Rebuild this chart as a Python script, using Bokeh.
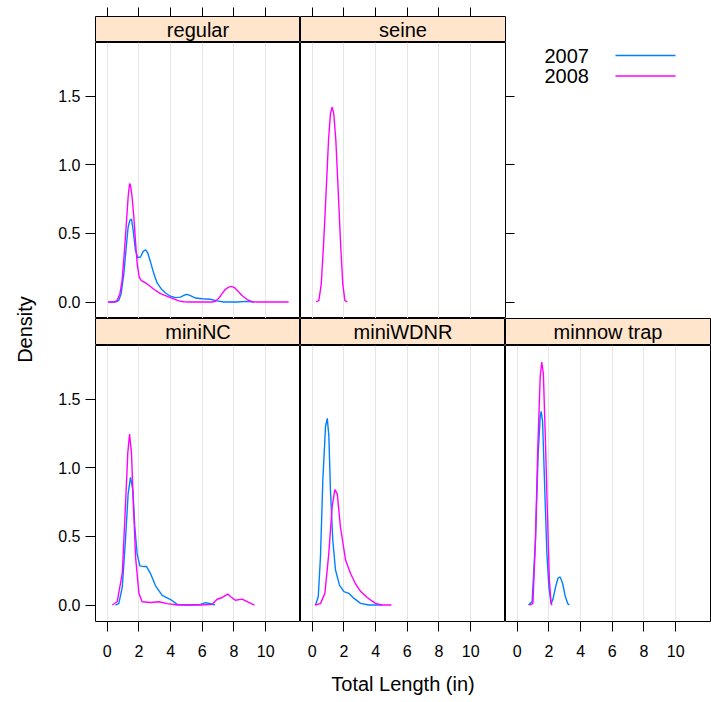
from bokeh.plotting import figure
from bokeh.models import Range1d, LinearAxis, FixedTicker, Grid, Label, PrintfTickFormatter
from bokeh.layouts import row, column
from bokeh.embed import file_html
from bokeh.resources import INLINE

# ---------------- data ----------------
x_tick_values = [0, 2, 4, 6, 8, 10]
y_tick_values = [0.0, 0.5, 1.0, 1.5]
year_labels = ["2007", "2008"]
top_panels = ["regular", "seine"]
bottom_panels = ["miniNC", "miniWDNR", "minnow trap"]

regular_2007_x = [0.10, 0.52, 0.73, 0.88, 1.05, 1.20, 1.32, 1.43, 1.53, 1.64, 1.78, 1.93, 2.10, 2.27,
                  2.42, 2.56, 2.73, 2.94, 3.15, 3.40, 3.68, 3.99, 4.31, 4.62, 4.87, 5.04, 5.25, 5.57,
                  5.99, 6.51, 6.93, 7.35, 8.20, 8.83, 9.25]
regular_2007_y = [0.0, 0.0, 0.012, 0.061, 0.207, 0.401, 0.546, 0.595, 0.605, 0.522, 0.376, 0.323, 0.328,
                  0.369, 0.381, 0.357, 0.292, 0.207, 0.139, 0.097, 0.066, 0.042, 0.032, 0.036, 0.051,
                  0.056, 0.046, 0.029, 0.024, 0.020, 0.008, 0.0, 0.0, 0.005, 0.0]
regular_2008_x = [0.04, 0.42, 0.63, 0.80, 0.94, 1.09, 1.22, 1.32, 1.41, 1.47, 1.57, 1.68, 1.78, 1.89,
                  2.02, 2.14, 2.42, 2.63, 2.94, 3.36, 3.99, 4.52, 4.83, 5.25, 6.62, 6.83, 7.04, 7.25,
                  7.46, 7.67, 7.84, 8.03, 8.24, 8.51, 8.83, 9.14, 9.46, 11.45]
regular_2008_y = [0.0, 0.0, 0.012, 0.061, 0.158, 0.376, 0.595, 0.765, 0.862, 0.850, 0.765, 0.619, 0.449,
                  0.280, 0.182, 0.158, 0.139, 0.122, 0.093, 0.061, 0.032, 0.008, 0.002, 0.0, 0.0, 0.006,
                  0.027, 0.061, 0.093, 0.109, 0.114, 0.105, 0.081, 0.047, 0.018, 0.002, 0.0, 0.0]

seine_2008_x = [0.25, 0.42, 0.57, 0.73, 0.88, 1.03, 1.15, 1.26, 1.36, 1.49, 1.64, 1.78, 1.93, 2.06, 2.21]
seine_2008_y = [0.0, 0.012, 0.13, 0.45, 0.81, 1.18, 1.37, 1.42, 1.37, 1.18, 0.81, 0.45, 0.13, 0.012, 0.0]

mininc_2007_x = [0.52, 0.73, 0.95, 1.15, 1.32, 1.47, 1.62, 1.74, 1.89, 2.06, 2.31, 2.48, 2.73, 3.05,
                 3.47, 4.00, 4.42, 5.25, 5.89, 6.20, 6.52, 6.79]
mininc_2007_y = [0.0, 0.01, 0.13, 0.47, 0.81, 0.93, 0.835, 0.57, 0.37, 0.285, 0.28, 0.28, 0.23, 0.14,
                 0.07, 0.04, 0.005, 0.0, 0.005, 0.017, 0.01, 0.0]
mininc_2008_x = [0.32, 0.63, 0.95, 1.15, 1.30, 1.41, 1.53, 1.64, 1.79, 2.00, 2.20, 2.73, 3.26, 3.79,
                 4.42, 5.89, 6.62, 6.94, 7.26, 7.61, 7.80, 8.09, 8.52, 8.83, 9.29]
mininc_2008_y = [0.0, 0.024, 0.23, 0.72, 1.11, 1.245, 1.11, 0.765, 0.35, 0.085, 0.024, 0.018, 0.024,
                 0.01, 0.0, 0.0, 0.005, 0.042, 0.055, 0.08, 0.06, 0.035, 0.043, 0.024, 0.0]

miniwdnr_2007_x = [0.21, 0.38, 0.52, 0.67, 0.84, 0.95, 1.05, 1.15, 1.30, 1.47, 1.72, 2.00, 2.31, 2.62,
                   3.05, 3.57, 4.41]
miniwdnr_2007_y = [0.0, 0.06, 0.35, 0.91, 1.30, 1.36, 1.23, 0.84, 0.47, 0.255, 0.145, 0.097, 0.085,
                   0.05, 0.012, 0.0, 0.0]
miniwdnr_2008_x = [0.17, 0.52, 0.80, 1.05, 1.26, 1.43, 1.58, 1.78, 2.10, 2.42, 2.73, 3.05, 3.47, 3.99,
                   4.41, 5.00]
miniwdnr_2008_y = [0.0, 0.01, 0.085, 0.38, 0.72, 0.84, 0.81, 0.57, 0.33, 0.23, 0.155, 0.10, 0.055,
                   0.012, 0.0, 0.0]

minnow_2007_x = [0.71, 0.94, 1.15, 1.32, 1.45, 1.51, 1.60, 1.72, 1.87, 2.00, 2.14, 2.25, 2.42, 2.57,
                 2.71, 2.87, 3.04, 3.19, 3.29]
minnow_2007_y = [0.0, 0.025, 0.47, 1.10, 1.37, 1.41, 1.34, 0.91, 0.38, 0.13, 0.01, 0.04, 0.13, 0.195,
                 0.205, 0.155, 0.06, 0.01, 0.0]
minnow_2008_x = [0.77, 0.99, 1.15, 1.30, 1.45, 1.55, 1.65, 1.78, 1.93, 2.03, 2.14, 2.20]
minnow_2008_y = [0.0, 0.01, 0.47, 1.15, 1.66, 1.77, 1.685, 1.20, 0.57, 0.18, 0.01, 0.0]

series = {
    "regular": {"2007": (regular_2007_x, regular_2007_y), "2008": (regular_2008_x, regular_2008_y)},
    "seine": {"2008": (seine_2008_x, seine_2008_y)},
    "miniNC": {"2007": (mininc_2007_x, mininc_2007_y), "2008": (mininc_2008_x, mininc_2008_y)},
    "miniWDNR": {"2007": (miniwdnr_2007_x, miniwdnr_2007_y), "2008": (miniwdnr_2008_x, miniwdnr_2008_y)},
    "minnow trap": {"2007": (minnow_2007_x, minnow_2007_y), "2008": (minnow_2008_x, minnow_2008_y)},
}

# ---------------- style / layout ----------------
FONT = "Liberation Sans"
COLORS = {"2007": "#0080ff", "2008": "#ff00ff"}
STRIP_BG = "#ffe5cc"
GRID_COLOR = "#e6e6e6"
XR = (-0.74, 12.2)
YR = (-0.12, 1.89)

LABEL_W = 50
LEFT = 45
FRAME_W = 205
PANEL_H = 276
STRIP_H_TOP = 26
STRIP_H_BOT = 27
TOPAX = 16
TICK_LEN = 9
BOTTOM = 79
RIGHT_TICKS = 11
TOTAL_W = 711
TOTAL_H = TOPAX + STRIP_H_TOP + PANEL_H + STRIP_H_BOT + PANEL_H + BOTTOM


def make_fig(w, h, xr, yr, left=0, right=0, top=0, bottom=0, outline=True, bg="white"):
    p = figure(width=w, height=h, x_range=xr, y_range=yr, x_axis_type=None, y_axis_type=None,
               toolbar_location=None, output_backend="svg",
               min_border_left=left, min_border_right=right,
               min_border_top=top, min_border_bottom=bottom)
    p.outline_line_color = "black" if outline else None
    p.outline_line_width = 1
    p.background_fill_color = bg
    p.border_fill_color = "white"
    return p


def tick_only_axis(ticks, **kw):
    # ticks drawn as minor ticks so that no label texts are produced
    return LinearAxis(ticker=FixedTicker(ticks=[], minor_ticks=ticks),
                      major_tick_out=0, major_tick_in=0,
                      minor_tick_out=TICK_LEN, minor_tick_in=0,
                      minor_tick_line_color="black", minor_tick_line_width=1,
                      axis_line_color=None, major_label_standoff=0, **kw)


def make_strip(name, left, right, top, h):
    p = make_fig(left + FRAME_W + right, top + h, Range1d(0, 1), Range1d(0, 1),
                 left=left, right=right, top=top, bg=STRIP_BG)
    p.extra_x_ranges = {"len": Range1d(*XR)}
    p.add_layout(Label(x=0.5, y=0.5, text=name, text_align="center", text_baseline="middle",
                       text_font=FONT, text_font_size="20px", text_color="black"))
    if top:
        p.add_layout(tick_only_axis(x_tick_values, x_range_name="len"), "above")
    return p


def make_panel(name, left, right, bottom, xlabel=None, left_axis=False, right_ticks=False, bottom_axis=False):
    p = make_fig(left + FRAME_W + right, PANEL_H + bottom, Range1d(*XR), Range1d(*YR),
                 left=left, right=right, bottom=bottom)
    p.add_layout(Grid(dimension=0, ticker=FixedTicker(ticks=x_tick_values),
                      grid_line_color=GRID_COLOR, grid_line_width=1))
    for yr in year_labels:
        if yr in series[name]:
            xs, ys = series[name][yr]
            p.line(xs, ys, line_color=COLORS[yr], line_width=1.4)
    if left_axis:
        ax = LinearAxis(ticker=FixedTicker(ticks=y_tick_values), formatter=PrintfTickFormatter(format="%.1f"),
                        major_tick_out=10, major_tick_in=0, minor_tick_out=0, minor_tick_in=0,
                        axis_line_color=None, major_tick_line_color="black",
                        major_label_text_font=FONT, major_label_text_font_size="16px",
                        major_label_text_color="black", major_label_standoff=5)
        p.add_layout(ax, "left")
    if right_ticks:
        p.add_layout(tick_only_axis(y_tick_values), "right")
    if bottom_axis:
        ax = LinearAxis(ticker=FixedTicker(ticks=x_tick_values),
                        major_tick_out=10, major_tick_in=0, minor_tick_out=0, minor_tick_in=0,
                        axis_line_color=None, major_tick_line_color="black",
                        major_label_text_font=FONT, major_label_text_font_size="16px",
                        major_label_text_color="black", major_label_standoff=13)
        if xlabel:
            ax.axis_label = xlabel
            ax.axis_label_text_font = FONT
            ax.axis_label_text_font_size = "20px"
            ax.axis_label_text_font_style = "normal"
            ax.axis_label_text_color = "black"
            ax.axis_label_standoff = 13
        p.add_layout(ax, "below")
    return p


# top row
s_reg = make_strip("regular", LEFT, 0, TOPAX, STRIP_H_TOP)
p_reg = make_panel("regular", LEFT, 0, 0, left_axis=True)
s_sei = make_strip("seine", 0, RIGHT_TICKS, TOPAX, STRIP_H_TOP)
p_sei = make_panel("seine", 0, RIGHT_TICKS, 0, right_ticks=True)

leg_w = TOTAL_W - LABEL_W - (LEFT + FRAME_W) - (FRAME_W + RIGHT_TICKS)
leg_h = TOPAX + STRIP_H_TOP + PANEL_H
legend = make_fig(leg_w, leg_h, Range1d(0, leg_w), Range1d(0, leg_h), outline=False)
key_rows = [(year_labels[0], 55), (year_labels[1], 75.5)]
for yr, ytop in key_rows:
    legend.add_layout(Label(x=28, y=leg_h - ytop, text=yr, text_align="left", text_baseline="middle",
                            text_font=FONT, text_font_size="20px", text_color="black"))
    legend.segment(x0=[99], y0=[leg_h - ytop], x1=[159], y1=[leg_h - ytop],
                   line_color=COLORS[yr], line_width=1.4)

# bottom row
s_nc = make_strip("miniNC", LEFT, 0, 0, STRIP_H_BOT)
p_nc = make_panel("miniNC", LEFT, 0, BOTTOM, left_axis=True, bottom_axis=True)
s_wd = make_strip("miniWDNR", 0, 0, 0, STRIP_H_BOT)
p_wd = make_panel("miniWDNR", 0, 0, BOTTOM, xlabel="Total Length (in)", bottom_axis=True)
s_mt = make_strip("minnow trap", 0, 1, 0, STRIP_H_BOT)
p_mt = make_panel("minnow trap", 0, 1, BOTTOM, bottom_axis=True)

# y label
ylab = make_fig(LABEL_W, TOTAL_H, Range1d(0, LABEL_W), Range1d(0, TOTAL_H), outline=False)
ylab.add_layout(Label(x=24.5, y=TOTAL_H - 329, text="Density", angle=1.5708, text_align="center",
                      text_baseline="middle", text_font=FONT, text_font_size="20px", text_color="black"))

top_row = row(column(s_reg, p_reg, spacing=0), column(s_sei, p_sei, spacing=0), legend, spacing=0)
bot_row = row(column(s_nc, p_nc, spacing=0), column(s_wd, p_wd, spacing=0), column(s_mt, p_mt, spacing=0), spacing=0)
layout = row(ylab, column(top_row, bot_row, spacing=0), spacing=0)

open("out.html", "w").write(file_html(layout, INLINE))
